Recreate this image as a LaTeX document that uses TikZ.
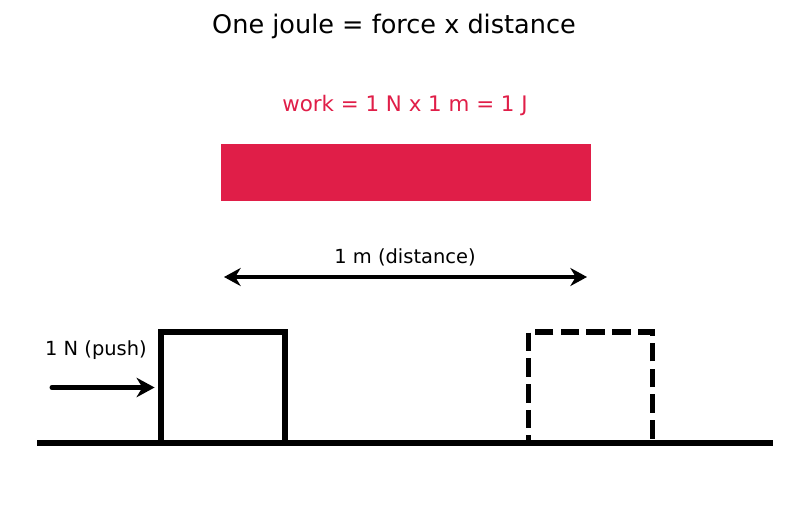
\documentclass[tikz,border=0pt]{standalone}
\usepackage{fontspec}
\setmainfont{DejaVu Sans}
\usetikzlibrary{arrows.meta}
\definecolor{workred}{RGB}{224,30,72}
\tikzset{
	block/.style={draw, line width=4.2pt, minimum width=89.3pt, minimum height=79.9pt, inner sep=0pt},
	label/.style={anchor=base, font=\fontsize{14}{16}\selectfont},
}
\begin{document}
\begin{tikzpicture}[x=0.72pt, y=-0.72pt]
		\useasboundingbox (0,0) rectangle (787,512);
		
		% 标题
		\node[anchor=base, font=\fontsize{18.4}{21}\selectfont] (title) at (394,34) {One joule = force x distance};
		
		% 功 (红色)
		\node[anchor=base, text=workred, font=\fontsize{15.4}{18}\selectfont] (work) at (405,112) {work = 1 N x 1 m = 1 J};
		\node[fill=workred, minimum width=266.4pt, minimum height=41pt, inner sep=0pt] (bar) at (406,172.5) {};
		
		% 距离 (双箭头)
		\coordinate (dl) at (224,277);
		\coordinate (dr) at (587,277);
		\draw[line width=2.8pt, {Stealth[length=12pt,width=13pt]}-{Stealth[length=12pt,width=13pt]}] (dl) -- (dr);
		\node[label] (dist) at (405,263) {1 m (distance)};
		
		% 地面
		\coordinate (gl) at (37,443);
		\coordinate (gr) at (773,443);
		\draw[line width=4.2pt] (gl) -- (gr);
		
		% 木块 (实线 / 虚线)
		\node[block] (box) at (223,387.5) {};
		\node[block, dash pattern=on 13.3pt off 5.2pt] (moved) at (590.5,387.5) {};
		
		% 推力
		\coordinate (push) at (52,387.5);
		\draw[line width=3.6pt, line cap=round, -{Stealth[length=13pt,width=14pt]}] (push) -- ([xshift=-2.5pt]box.west);
		\node[label] (force) at (96,355) {1 N (push)};
	
	\end{tikzpicture}
\end{document}
